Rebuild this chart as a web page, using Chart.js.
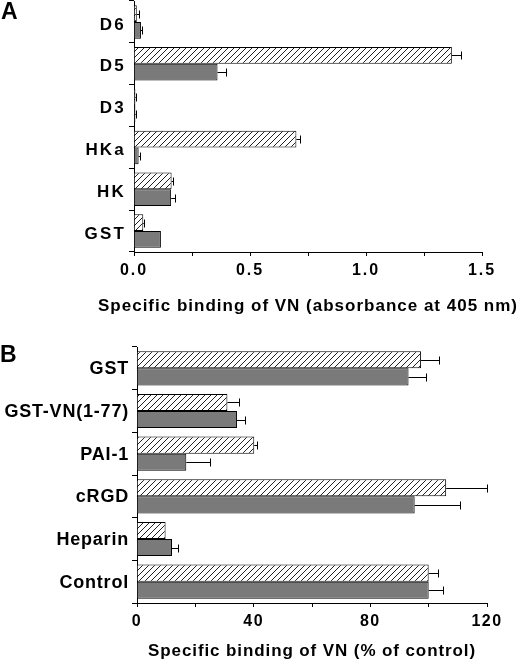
<!DOCTYPE html>
<html>
<head>
<meta charset="utf-8">
<script src="https://cdn.jsdelivr.net/npm/chart.js@4.4.1/dist/chart.umd.min.js"></script>
<style>
  html, body { margin: 0; padding: 0; background: #fff; }
  #page { position: relative; width: 520px; height: 662px; overflow: hidden; font-family: "Liberation Sans", Arial, sans-serif; }
  .box { position: absolute; left: 0; width: 520px; }
  .tag { position: absolute; font-weight: bold; font-size: 23px; line-height: 1; color: #000; }
</style>
</head>
<body>
<div id="page">
  <div class="box" style="top:0;height:320px"><canvas id="chartA"></canvas></div>
  <div class="box" style="top:330px;height:332px"><canvas id="chartB"></canvas></div>
  <div class="tag" style="left:1px;top:0">A</div>
  <div class="tag" style="left:0;top:343px">B</div>
</div>
<script>
// panel A
const labelsA = ["D6", "D5", "D3", "HKa", "HK", "GST"];
const hatchedA = [0.012, 1.37, 0.006, 0.70, 0.162, 0.04];
const hatchedAErr = [0.01, 0.04, 0.002, 0.015, 0.006, 0.005];
const grayA = [0.03, 0.36, 0.006, 0.02, 0.16, 0.116];
const grayAErr = [0.004, 0.035, 0.002, 0.006, 0.015, 0];
const ticksA = ["0.0", "0.5", "1.0", "1.5"];

// panel B
const labelsB = ["GST", "GST-VN(1-77)", "PAI-1", "cRGD", "Heparin", "Control"];
const hatchedB = [97.4, 31, 40.2, 106, 9.8, 100];
const hatchedBErr = [6, 4, 1, 14, 0, 3.2];
const grayB = [93.1, 34.3, 16.9, 95.2, 12, 100];
const grayBErr = [6, 2.8, 8.2, 15.7, 1.9, 4.8];
const ticksB = ["0", "40", "80", "120"];

Chart.defaults.font.family = '"Liberation Sans", Arial, sans-serif';
Chart.defaults.color = "#000";

// diagonal hatch fill
function hatch() {
  const c = document.createElement("canvas");
  c.width = 6; c.height = 6;
  const g = c.getContext("2d");
  g.fillStyle = "#fff";
  g.fillRect(0, 0, 6, 6);
  g.strokeStyle = "#222";
  g.lineWidth = 1;
  g.beginPath();
  g.moveTo(0, 6); g.lineTo(6, 0);
  g.moveTo(-1, 1); g.lineTo(1, -1);
  g.moveTo(5, 7); g.lineTo(7, 5);
  g.stroke();
  return g.createPattern(c, "repeat");
}

const errorBars = {
  id: "errorBars",
  afterDatasetsDraw(chart) {
    const ctx = chart.ctx;
    const xs = chart.scales.x;
    ctx.save();
    ctx.strokeStyle = "#000";
    ctx.lineWidth = 1;
    chart.data.datasets.forEach((ds, i) => {
      chart.getDatasetMeta(i).data.forEach((bar, j) => {
        const err = ds.errors[j];
        if (!err) return;
        const x0 = bar.x;
        const x1 = xs.getPixelForValue(ds.data[j] + err);
        const y = Math.round(bar.y) + 0.5;
        const xe = Math.round(x1) + 0.5;
        ctx.beginPath();
        ctx.moveTo(x0, y); ctx.lineTo(xe, y);
        ctx.moveTo(xe, y - 4); ctx.lineTo(xe, y + 4);
        ctx.stroke();
      });
    });
    ctx.restore();
  },
};

// the scanned figure uses tracked-out lettering; canvas letterSpacing per text kind
function spacing(cfg) {
  return {
    id: "spacing",
    beforeDraw(chart) {
      Object.keys(cfg).forEach((id) => {
        const s = chart.scales[id];
        if (!s || s._spaced) return;
        s._spaced = true;
        const drawLabels = s.drawLabels, drawTitle = s.drawTitle;
        s.drawLabels = function (area) {
          this.ctx.letterSpacing = cfg[id].ticks;
          drawLabels.call(this, area);
          this.ctx.letterSpacing = "0px";
        };
        s.drawTitle = function () {
          // title is wider than the axis in the original, so don't let it be squeezed
          const l = this.left, r = this.right;
          this.left -= 80; this.right += 80;
          this.ctx.letterSpacing = cfg[id].title || "0px";
          drawTitle.call(this);
          this.ctx.letterSpacing = "0px";
          this.left = l; this.right = r;
        };
      });
    },
  };
}

function makeChart(id, labels, hatched, hatchedErr, gray, grayErr, max, step, tickLabels, title, p) {
  const major = max / (tickLabels.length - 1);
  return new Chart(document.getElementById(id), {
    type: "bar",
    data: {
      labels,
      datasets: [
        { data: hatched, errors: hatchedErr, backgroundColor: hatch(), borderColor: "#000", borderWidth: 1 },
        { data: gray, errors: grayErr, backgroundColor: "#7a7a7a", borderColor: "#000", borderWidth: 1 },
      ],
    },
    options: {
      indexAxis: "y",
      responsive: true,
      maintainAspectRatio: false,
      animation: false,
      layout: { padding: p.pad },
      datasets: { bar: { categoryPercentage: 0.8, barPercentage: 1.0 } },
      plugins: { legend: { display: false }, tooltip: { enabled: false } },
      scales: {
        x: {
          min: 0,
          max: max,
          afterFit: (s) => { s.height = p.axisH; s.paddingLeft = 0; s.paddingRight = 0; },
          ticks: {
            stepSize: step,
            padding: p.tickPad,
            maxRotation: 0,
            autoSkip: false,
            font: { size: p.tickSize, weight: "bold" },
            callback: (v) => {
              const k = Math.round(v / major * 1000) / 1000;
              return Number.isInteger(k) ? tickLabels[k] : "";
            },
          },
          grid: { drawOnChartArea: false, drawTicks: true, tickLength: 4, color: "#000" },
          border: { display: true, color: "#000", width: 1 },
          title: {
            display: true,
            text: title,
            font: { size: 17, weight: "bold" },
            padding: { top: 0, bottom: p.titlePad },
          },
        },
        y: {
          afterFit: (s) => { s.width = p.yw; s.paddingTop = 0; s.paddingBottom = 0; },
          ticks: { padding: 3, labelOffset: p.labelOffset, font: { size: p.labelSize, weight: "bold" } },
          grid: { drawOnChartArea: false, drawTicks: true, tickLength: 5, color: "#000", offset: true },
          border: { display: true, color: "#000", width: 1 },
        },
      },
    },
    plugins: [errorBars, spacing(p.spacing)],
  });
}

makeChart("chartA", labelsA, hatchedA, hatchedAErr, grayA, grayAErr, 1.5, 0.25, ticksA,
  "Specific binding of VN (absorbance at 405 nm)", {
    pad: { top: 1, right: 38, bottom: 0, left: 0 }, yw: 134, axisH: 68,
    tickSize: 16, tickPad: 5, titlePad: 3, labelSize: 17, labelOffset: 3,
    spacing: { x: { ticks: "2px", title: "1px" }, y: { ticks: "2.2px" } },
  });

makeChart("chartB", labelsB, hatchedB, hatchedBErr, grayB, grayBErr, 120, 20, ticksB,
  "Specific binding of VN (% of control)", {
    pad: { top: 17, right: 33, bottom: 0, left: 0 }, yw: 137, axisH: 59,
    tickSize: 16, tickPad: 5, titlePad: 0, labelSize: 18, labelOffset: 1,
    spacing: { x: { ticks: "1.5px", title: "0.9px" }, y: { ticks: "0.8px" } },
  });
</script>
</body>
</html>
